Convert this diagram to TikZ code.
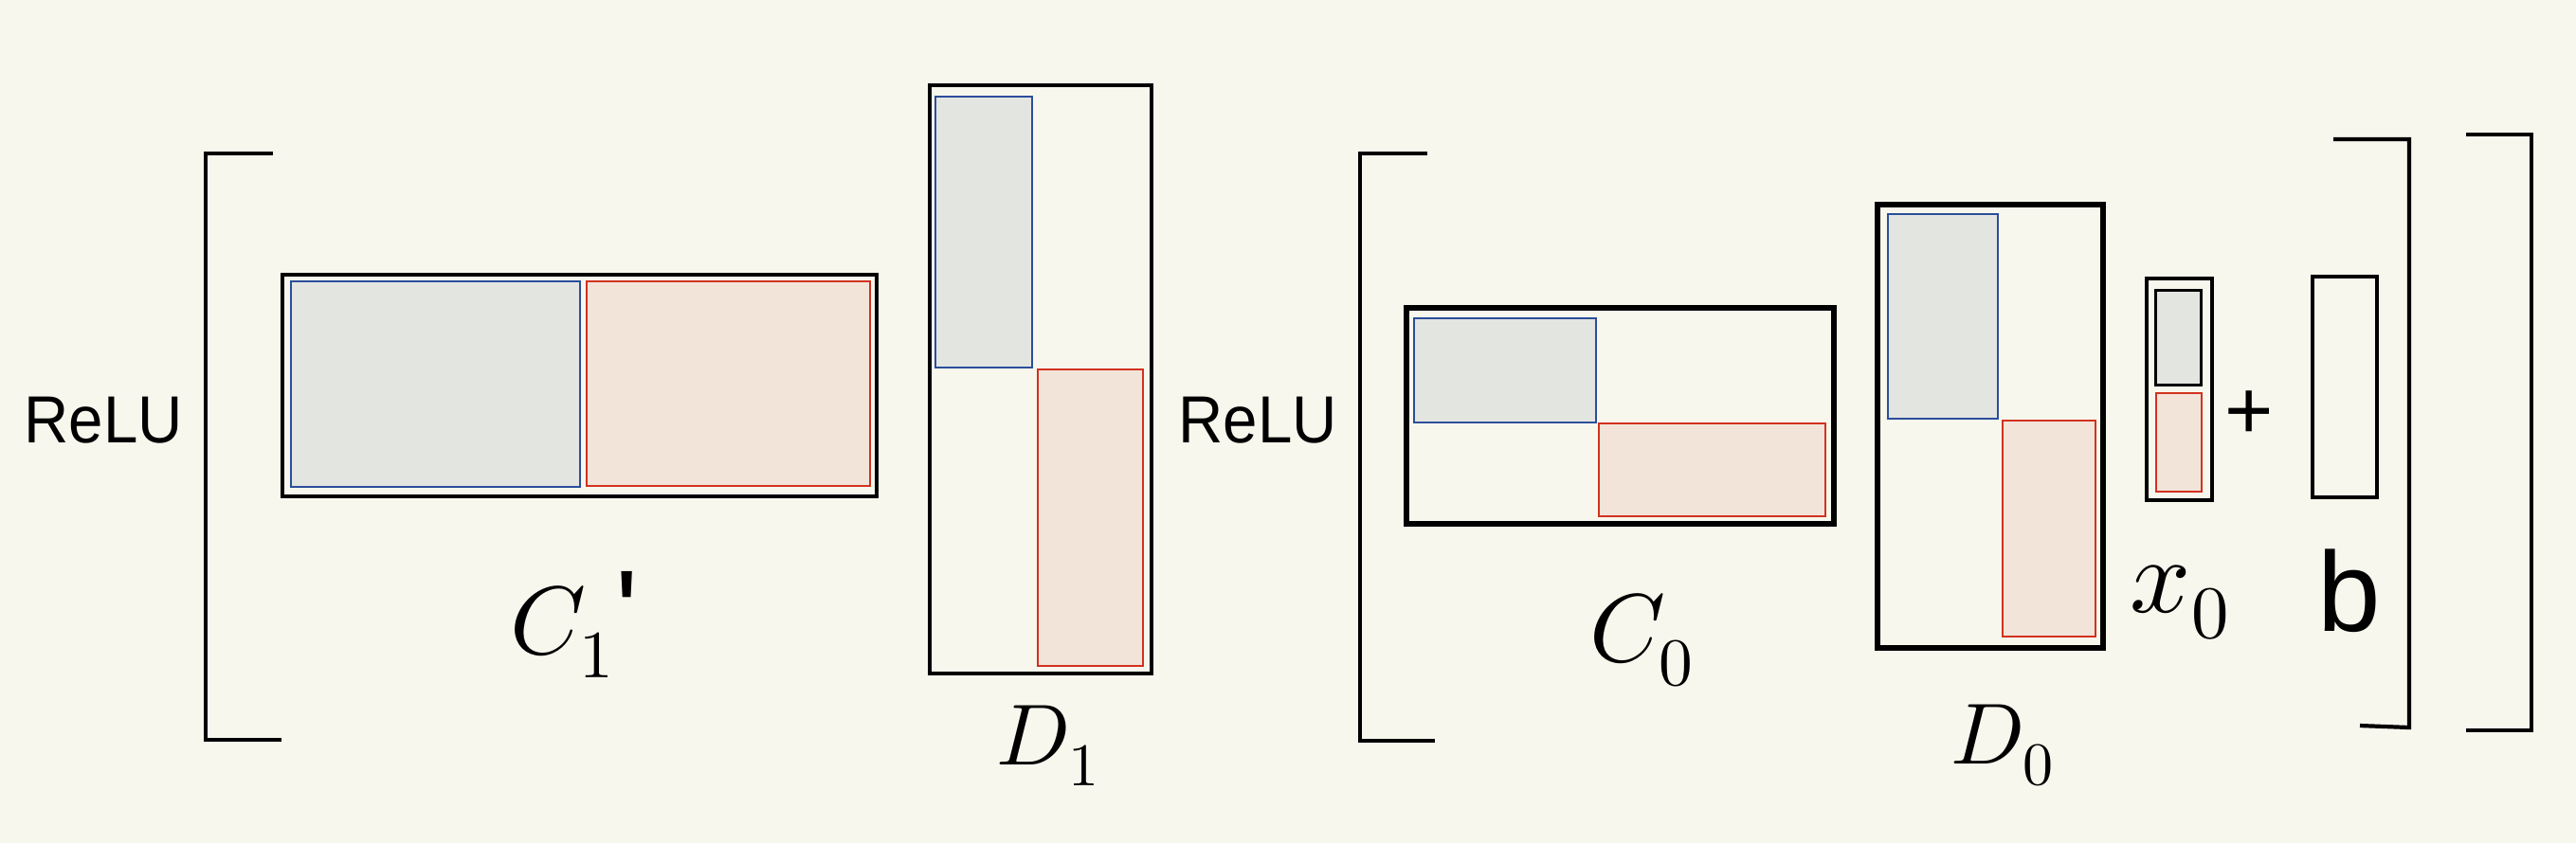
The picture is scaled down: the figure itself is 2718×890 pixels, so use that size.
\documentclass[tikz,border=0pt]{standalone}
\usepackage{unicode-math}
\usepackage{tikz}
\usetikzlibrary{fit}
\newfontfamily\lsans{Liberation Sans}
\newfontfamily\relufont[FakeStretch=0.93]{Liberation Sans}
\definecolor{pagebg}{HTML}{F7F7ED}
\definecolor{mblue}{HTML}{2B4E9B}
\definecolor{mred}{HTML}{D2321F}
\definecolor{mgrey}{HTML}{E3E5E1}
\definecolor{mpink}{HTML}{F3E4D9}

\begin{document}
\begin{tikzpicture}[x=0.01cm,y=-0.01cm,
  mat/.style={draw=black,line width=1.15pt,inner sep=0pt,outer sep=0pt},
  heavy/.style={mat,line width=1.7pt},
  bluebox/.style={draw=mblue,fill=mgrey,line width=0.7pt,inner sep=0pt,outer sep=0pt},
  redbox/.style={draw=mred,fill=mpink,line width=0.7pt,inner sep=0pt,outer sep=0pt},
  brk/.style={draw=black,line width=1.2pt},
  lbl/.style={anchor=base west,inner sep=0pt}]
  \fill[pagebg] (0,0) rectangle (2718,890);

  \node[lbl,font=\relufont\fontsize{20}{24}\selectfont] (relu1) at (25,467) {ReLU};
  \draw[brk] (288,162) -- (217,162) -- (217,781) -- (297,781);
  \node[mat,fit={(298,290) (925,524)}] (c1p) {};
  \node[bluebox,fit={(307,297) (612,514)}] (c1pa) {};
  \node[redbox,fit={(619,297) (918,513)}] (c1pb) {};
  \node[lbl,font=\fontsize{29}{34}\selectfont] (c1lab) at (538,690)
    {$C_1${\lsans\fontsize{36}{40}\selectfont '}};

  \node[mat,fit={(981,90) (1215,711)}] (d1) {};
  \node[bluebox,fit={(987,102) (1089,388)}] (d1a) {};
  \node[redbox,fit={(1095,390) (1206,703)}] (d1b) {};
  \node[lbl,font=\fontsize{26}{31}\selectfont] (d1lab) at (1051,807) {$D_1$};

  \node[lbl,font=\relufont\fontsize{20}{24}\selectfont] (relu2) at (1243,467) {ReLU};
  \draw[brk] (1506,162) -- (1435,162) -- (1435,782) -- (1514,782);
  \node[heavy,fit={(1484,325) (1935,553)}] (c0) {};
  \node[bluebox,fit={(1492,336) (1684,446)}] (c0a) {};
  \node[redbox,fit={(1687,447) (1926,545)}] (c0b) {};
  \node[lbl,font=\fontsize{29}{34}\selectfont] (c0lab) at (1677,698) {$C_0$};

  \node[heavy,fit={(1981,216) (2219,684)}] (d0) {};
  \node[bluebox,fit={(1992,226) (2108,442)}] (d0a) {};
  \node[redbox,fit={(2113,444) (2211,672)}] (d0b) {};
  \node[lbl,font=\fontsize{26}{31}\selectfont] (d0lab) at (2058,806) {$D_0$};

  \node[mat,fit={(2265,294) (2334,528)}] (x0) {};
  \node[mat,line width=0.85pt,fill=mgrey,fit={(2274,306) (2322,406)}] (x0a) {};
  \node[redbox,fit={(2275,415) (2323,519)}] (x0b) {};
  \node[lbl,font=\fontsize{32}{38}\selectfont] (x0lab) at (2247,646) {$x_0$};

  \node[anchor=base,inner sep=0pt,font=\lsans\fontsize{25}{30}\selectfont] (plus) at (2373,463) {+};

  \node[mat,fit={(2440,292) (2508,525)}] (bvec) {};
  \node[lbl,font=\lsans\fontsize{34}{40}\selectfont] (blab) at (2445,666) {b};

  \draw[brk] (2462,147) -- (2542,147) -- (2542,768) -- (2490,766);
  \draw[brk] (2602,142) -- (2671,142) -- (2671,771) -- (2602,771);
\end{tikzpicture}
\end{document}
